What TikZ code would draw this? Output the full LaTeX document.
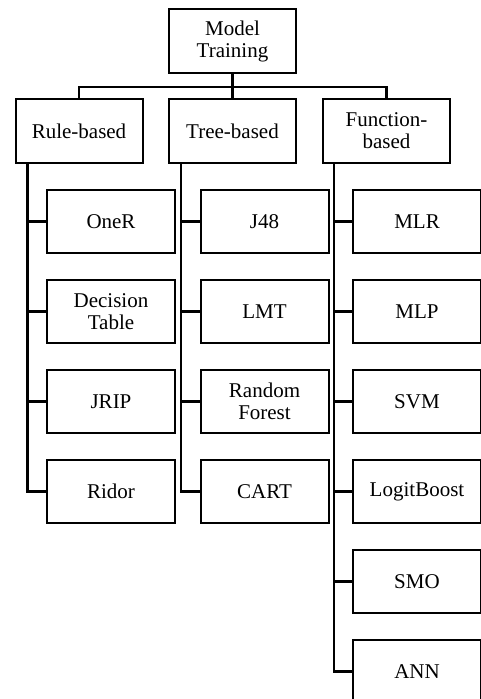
\documentclass[tikz,border=0pt]{standalone}
\usepackage{fontspec}
\setmainfont{Liberation Serif}

\begin{document}
\begin{tikzpicture}[x=1pt,y=-1pt,line width=2.6pt]
	\tikzstyle{box}=[draw,rectangle,line width=2pt,align=center,inner sep=0pt,minimum width=127pt,minimum height=64pt,font=\fontsize{21}{22}\selectfont];
	\tikzstyle{leaf}=[box,minimum width=128pt,minimum height=63pt];

	\useasboundingbox (0,0) rectangle (481,699);
	\clip (0,0) rectangle (481,699);

	\node[box] (train) at (232.5,41)  {Model\\Training};
	\node[box] (rule)  at (79,131)    {Rule-based};
	\node[box] (tree)  at (232.5,131) {Tree-based};
	\node[box] (func)  at (386.5,131) {Function-\\based};
	\coordinate (bus) at (232.5,87);

	\node[leaf] (oner)   at (111,221.5) {OneR};
	\node[leaf] (dtable) at (111,311.5) {Decision\\Table};
	\node[leaf] (jrip)   at (111,401.5) {JRIP};
	\node[leaf] (ridor)  at (111,491.5) {Ridor};

	\node[leaf] (jft)    at (264.5,221.5) {J48};
	\node[leaf] (lmt)    at (264.5,311.5) {LMT};
	\node[leaf] (rforest) at (264.5,401.5) {Random\\Forest};
	\node[leaf] (cart)   at (264.5,491.5) {CART};

	\node[leaf] (mlr)    at (417,221.5) {MLR};
	\node[leaf] (mlp)    at (417,311.5) {MLP};
	\node[leaf] (svm)    at (417,401.5) {SVM};
	\node[leaf] (lboost) at (417,491.5) {LogitBoost};
	\node[leaf] (smo)    at (417,581.5) {SMO};
	\node[leaf] (ann)    at (417,671.5) {ANN};

	% top level
	\draw (train) -- (bus);
	\draw (rule.north) |- (bus) -| (func.north);
	\draw (bus) -- (tree);

	% spines
	\coordinate (rs) at ([xshift=13pt]rule.south west);
	\coordinate (ts) at ([xshift=13pt]tree.south west);
	\coordinate (fs) at ([xshift=12pt]func.south west);

	\draw (rs) |- (oner.west);
	\draw (rs) |- (dtable.west);
	\draw (rs) |- (jrip.west);
	\draw (rs) |- (ridor.west);

	\draw (ts) |- (jft.west);
	\draw (ts) |- (lmt.west);
	\draw (ts) |- (rforest.west);
	\draw (ts) |- (cart.west);

	\draw (fs) |- (mlr.west);
	\draw (fs) |- (mlp.west);
	\draw (fs) |- (svm.west);
	\draw (fs) |- (lboost.west);
	\draw (fs) |- (smo.west);
	\draw (fs) |- (ann.west);
\end{tikzpicture}
\end{document}
